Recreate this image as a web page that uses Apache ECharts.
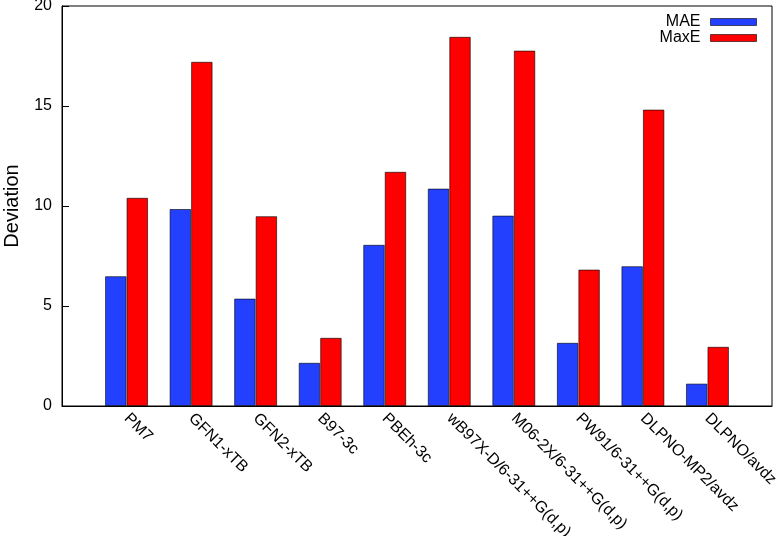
<!DOCTYPE html>
<html>
<head>
<meta charset="utf-8">
<script src="https://cdn.jsdelivr.net/npm/echarts@6/dist/echarts.min.js"></script>
<style>
html,body{margin:0;padding:0;background:#fff;}
#chart{width:776px;height:536px;}
</style>
</head>
<body>
<div id="chart"></div>
<script>
const categories = ['PM7','GFN1-xTB','GFN2-xTB','B97-3c','PBEh-3c','wB97X-D/6-31++G(d,p)','M06-2X/6-31++G(d,p)','PW91/6-31++G(d,p)','DLPNO-MP2/avdz','DLPNO/avdz'];
const maeValues = [6.49, 9.85, 5.37, 2.16, 8.06, 10.87, 9.52, 3.16, 6.99, 1.12];
const maxeValues = [10.41, 17.21, 9.49, 3.41, 11.71, 18.46, 17.77, 6.82, 14.82, 2.96];
const yTicks = [0, 5, 10, 15, 20];

// pad with empty slots on both ends (gnuplot-style range)
const xCats = [''].concat(categories, ['']);
const pad = v => [null].concat(v, [null]);

const chart = echarts.init(document.getElementById('chart'));
const font = 'Liberation Sans, Arial, Helvetica, sans-serif';
chart.setOption({
  animation: false,
  backgroundColor: '#fff',
  grid: {left: 62, right: 4, top: 6, bottom: 130, show: true, borderColor: '#000', borderWidth: 1,
    backgroundColor: 'transparent', containLabel: false, outerBoundsMode: 'none'},
  legend: {
    data: ['MAE', 'MaxE'],
    orient: 'vertical',
    right: 14, top: 9,
    align: 'right',
    itemWidth: 46, itemHeight: 7, itemGap: 0,
    icon: 'rect',
    itemStyle: {borderColor: 'rgba(0,0,0,0.6)', borderWidth: 1},
    textStyle: {fontFamily: font, fontSize: 16, color: '#000', lineHeight: 16, padding: [0, 5, 0, 0]}
  },
  xAxis: {
    type: 'category',
    data: xCats,
    boundaryGap: false,
    axisLine: {show: true, lineStyle: {color: '#000', width: 1}},
    axisTick: {show: false},
    splitLine: {show: false},
    axisLabel: {rotate: -45, margin: 10, fontFamily: font, fontSize: 16, color: '#000', interval: 0}
  },
  yAxis: {
    type: 'value',
    min: 0, max: 20, interval: 5,
    name: 'Deviation',
    nameLocation: 'middle',
    nameGap: 40,
    nameTextStyle: {fontFamily: font, fontSize: 20, color: '#000'},
    axisLine: {show: true, lineStyle: {color: '#000', width: 1}},
    axisTick: {show: true, inside: true, length: 7, lineStyle: {color: '#000'}},
    splitLine: {show: false},
    axisLabel: {fontFamily: font, fontSize: 16, color: '#000', margin: 10,
      formatter: v => yTicks.includes(v) ? String(v) : ''}
  },
  series: [
    {name: 'MAE', type: 'bar', data: pad(maeValues), barWidth: '33.3%', barGap: '0%',
      itemStyle: {color: '#2440ff', borderColor: 'rgba(0,0,0,0.6)', borderWidth: 1}},
    {name: 'MaxE', type: 'bar', data: pad(maxeValues), barWidth: '33.3%', barGap: '0%',
      itemStyle: {color: '#ff0000', borderColor: 'rgba(0,0,0,0.6)', borderWidth: 1}}
  ]
});
</script>
</body>
</html>
